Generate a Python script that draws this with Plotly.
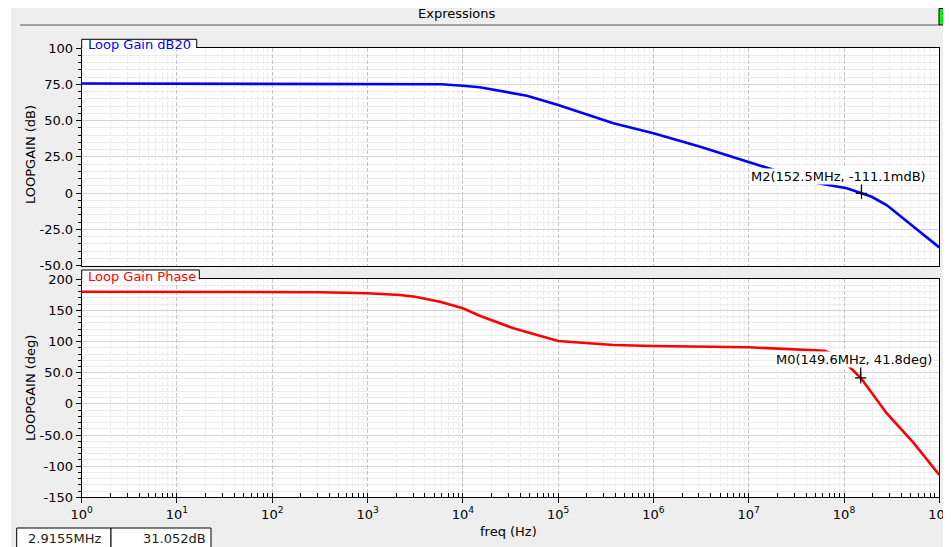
import plotly.graph_objects as go

# The page body has an 8px margin, so the figure is drawn 8px in from the window edge.
OFF = 8
W, H = 951 - OFF, 547 - OFF

# ---------------- data ----------------
gain_freq = [1, 10, 100, 1000, 3000, 6000, 10000, 15000, 47000, 1.0e5, 3.8e5,
             1.0e6, 3.1e6, 1.0e7, 1.66e7, 2.7e7, 4.37e7, 1.07e8, 1.525e8,
             1.95e8, 2.8e8, 5.4e8, 1.0e9]
gain_db = [75.5, 75.5, 75.5, 75.5, 75.4, 75.0, 74.0, 73.0, 67.1, 60.7, 48.1,
           41.2, 32.0, 21.6, 17.1, 12.5, 7.9, 3.3, -0.1,
           -2.5, -8.2, -23.2, -37.4]

phase_freq = [1, 10, 100, 316, 1000, 2190, 3160, 5750, 10000, 15000, 34000,
              1.0e5, 3.8e5, 1.0e6, 1.0e7, 6.3e7, 8.0e7, 1.07e8, 1.496e8,
              2.8e8, 5.4e8, 1.0e9]
phase_deg = [180, 180, 180, 179.3, 177.5, 174.8, 172.0, 164.0, 153.4, 141.6, 121.3,
             101.0, 94.5, 93.0, 90.8, 85.4, 78.0, 63.5, 41.8,
             -15.0, -63.0, -114.0]

m2_freq, m2_val = 152.5e6, -0.1111
m0_freq, m0_val = 149.6e6, 41.8
m2_label = "M2(152.5MHz, -111.1mdB)"
m0_label = "M0(149.6MHz, 41.8deg)"

x_tickvals = [10 ** k for k in range(10)]
x_ticktext = ["10<sup>%d</sup>" % k for k in range(10)]
gain_tickvals = [-50, -25, 0, 25, 50, 75, 100]
gain_ticktext = ["-50.0", "-25.0", "0", "25.0", "50.0", "75.0", "100"]
phase_tickvals = [-150, -100, -50, 0, 50, 100, 150, 200]
phase_ticktext = ["-150", "-100", "-50.0", "0", "50.0", "100", "150", "200"]

cursor_freq_text = "2.9155MHz"
cursor_val_text = "31.052dB"

# ---------------- helpers (window pixel -> paper) ----------------
def px(x):
    return (x - OFF) / W

def py(y):
    return 1 - (y - OFF) / H

FONT = "DejaVu Sans"
X0, X1 = 81.7, 939.3
TOP_Y0, TOP_Y1 = 48.0, 265.7
BOT_Y0, BOT_Y1 = 279.3, 497.3

fig = go.Figure()

fig.add_trace(go.Scatter(x=gain_freq, y=gain_db, mode="lines",
                         line=dict(color="#0000ff", width=2.6),
                         xaxis="x", yaxis="y", showlegend=False, hoverinfo="skip"))
fig.add_trace(go.Scatter(x=phase_freq, y=phase_deg, mode="lines",
                         line=dict(color="#ff0000", width=2.6),
                         xaxis="x2", yaxis="y2", showlegend=False, hoverinfo="skip"))

# marker crosses
fig.add_trace(go.Scatter(x=[m2_freq], y=[m2_val], mode="markers",
                         marker=dict(symbol="cross-thin", size=8, line=dict(color="black", width=1.2)),
                         error_y=dict(type="data", symmetric=False, array=[7.4], arrayminus=[0],
                                      width=0, thickness=1.2, color="black"),
                         xaxis="x", yaxis="y", showlegend=False, hoverinfo="skip"))
fig.add_trace(go.Scatter(x=[m0_freq], y=[m0_val], mode="markers",
                         marker=dict(symbol="cross-thin", size=8, line=dict(color="black", width=1.2)),
                         error_y=dict(type="data", symmetric=False, array=[20], arrayminus=[0],
                                      width=0, thickness=1.2, color="black"),
                         xaxis="x2", yaxis="y2", showlegend=False, hoverinfo="skip"))

grid_major = "#d4d4d4"
grid_minor = "#ebebeb"

def xaxis_cfg(show_labels, anchor):
    return dict(type="log", range=[0, 9], domain=[px(X0), px(X1)], anchor=anchor,
                automargin=False,
                showline=True, linecolor="black", linewidth=1, mirror=True,
                showgrid=True, gridcolor="#c4c4c4", griddash="4px,2px", gridwidth=1,
                tickvals=x_tickvals, ticktext=x_ticktext,
                showticklabels=show_labels,
                ticks="outside" if show_labels else "", ticklen=5, tickcolor="black",
                tickfont=dict(family=FONT, size=13, color="black"),
                minor=dict(dtick="D1", showgrid=True, gridcolor=grid_minor,
                           ticks="inside" if show_labels else "", ticklen=4, tickcolor="black"),
                zeroline=False, fixedrange=True)

def yaxis_cfg(rng, y0, y1, tv, tt, minor_dt, anchor):
    return dict(range=rng, domain=[py(y1), py(y0)], anchor=anchor,
                automargin=False,
                showline=True, linecolor="black", linewidth=1, mirror=True,
                showgrid=True, gridcolor=grid_major, gridwidth=1,
                tickvals=tv, ticktext=tt, ticks="outside", ticklen=5, tickcolor="black",
                tickfont=dict(family=FONT, size=13, color="black"),
                minor=dict(dtick=minor_dt, showgrid=True, gridcolor=grid_minor,
                           ticks="outside", ticklen=3, tickcolor="black"),
                zeroline=False, fixedrange=True)

fig.update_layout(
    template="none",
    width=W, height=H,
    margin=dict(l=0, r=0, t=0, b=0, pad=0, autoexpand=False),
    paper_bgcolor="#eeeeee", plot_bgcolor="white",
    font=dict(family=FONT, size=13, color="black"),
    xaxis=xaxis_cfg(False, "y"),
    yaxis=yaxis_cfg([-50, 100], TOP_Y0, TOP_Y1, gain_tickvals, gain_ticktext, 5, "x"),
    xaxis2=xaxis_cfg(True, "y2"),
    yaxis2=yaxis_cfg([-150, 200], BOT_Y0, BOT_Y1, phase_tickvals, phase_ticktext, 10, "x2"),
)

def tab(xl, xr, ytop, ybot):
    # white tab with left/top/right border, open at the bottom onto the plot
    fill = dict(type="rect", xref="paper", yref="paper", x0=px(xl), x1=px(xr),
                y0=py(ybot + 1.5), y1=py(ytop), fillcolor="white", line=dict(width=0))
    path = "M %f,%f L %f,%f L %f,%f L %f,%f" % (px(xl), py(ybot), px(xl), py(ytop),
                                                px(xr), py(ytop), px(xr), py(ybot))
    border = dict(type="path", xref="paper", yref="paper", path=path,
                  line=dict(color="black", width=1))
    return [fill, border]

shapes = []
# white strip at far left
shapes.append(dict(type="rect", xref="paper", yref="paper", x0=px(OFF), x1=px(11), y0=0, y1=1,
                   fillcolor="white", line=dict(width=0), layer="below"))
# header line
shapes.append(dict(type="line", xref="paper", yref="paper", x0=px(20), x1=px(939), y0=py(25), y1=py(25),
                   line=dict(color="#555555", width=1)))
# green box
shapes.append(dict(type="rect", xref="paper", yref="paper", x0=px(939), x1=px(950), y0=py(25), y1=py(8.5),
                   fillcolor="#00ff00", line=dict(color="black", width=1)))
# tabs
shapes += tab(X0, 196.7, 39.3, TOP_Y0)
shapes += tab(X0, 199.3, 270.0, BOT_Y0)
# cursor readout boxes
shapes.append(dict(type="rect", xref="paper", yref="paper", x0=px(16.7), x1=px(111), y0=py(549), y1=py(528),
                   fillcolor="white", line=dict(color="black", width=1)))
shapes.append(dict(type="rect", xref="paper", yref="paper", x0=px(111), x1=px(211), y0=py(549), y1=py(528),
                   fillcolor="white", line=dict(color="black", width=1)))
fig.update_layout(shapes=shapes)

def note(text, x, y, xanchor="center", size=13, color="black", **kw):
    return dict(text=text, xref="paper", yref="paper", x=px(x), y=py(y),
                xanchor=xanchor, yanchor="middle", showarrow=False,
                font=dict(family=FONT, size=size, color=color), **kw)

ann = [
    note("Expressions", 457, 14),
    note("1", 944.5, 17, size=12),
    note("Loop Gain dB20", 86, 45, xanchor="left", color="#0000ff"),
    note("Loop Gain Phase", 86, 276, xanchor="left", color="#ff0000"),
    note("LOOPGAIN (dB)", 30, 155, textangle=-90),
    note("LOOPGAIN (deg)", 30, 388, textangle=-90),
    note("freq (Hz)", 509, 531.5),
    note(m2_label, 749.5, 176, xanchor="left", bgcolor="white", borderpad=0),
    note(m0_label, 775, 359.5, xanchor="left", bgcolor="white", borderpad=0),
    note(cursor_freq_text, 64, 538.5, color="#222222"),
    note(cursor_val_text, 207.5, 538.5, xanchor="right", color="#222222"),
]
fig.update_layout(annotations=ann)

fig.write_html("out.html")
